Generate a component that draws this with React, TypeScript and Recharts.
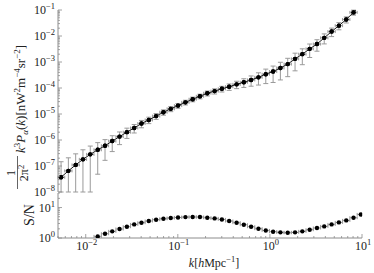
import React from "react";
import { ComposedChart, Scatter, Line, XAxis, YAxis, ErrorBar, Label } from "recharts";

// k bins [h/Mpc]
const kValues = [
  0.0054, 0.00648, 0.00778, 0.00933, 0.0112, 0.0135, 0.0162, 0.0194, 0.0233, 0.028,
  0.0336, 0.0403, 0.0484, 0.0581, 0.0698, 0.0838, 0.1005, 0.121, 0.145, 0.174,
  0.209, 0.251, 0.301, 0.361, 0.435, 0.521, 0.625, 0.751, 0.902, 1.083,
  1.3, 1.561, 1.875, 2.249, 2.704, 3.243, 3.89, 4.677, 5.61, 6.745, 8.091, 9.71,
];

// k^3 P(k) / 2pi^2
const powerValues = [
  3.7e-8, 6.5e-8, 1.1e-7, 1.8e-7, 2.8e-7, 4.2e-7, 6.0e-7, 9.1e-7, 1.35e-6, 2.0e-6,
  2.9e-6, 4.3e-6, 5.9e-6, 8.3e-6, 1.17e-5, 1.58e-5, 2.1e-5, 2.8e-5, 3.7e-5, 4.8e-5,
  6.3e-5, 7.6e-5, 9.3e-5, 1.12e-4, 1.38e-4, 1.66e-4, 2.04e-4, 2.57e-4, 3.4e-4, 4.3e-4,
  5.9e-4, 8.3e-4, 1.32e-3, 2.0e-3, 3.2e-3, 4.9e-3, 8.5e-3, 1.48e-2, 2.5e-2, 4.3e-2, 8.1e-2, 0.166,
];

// signal to noise, bottom panel
const snrValues = [
  0.34, 0.46, 0.6, 0.75, 0.92, 1.13, 1.38, 1.65, 1.97, 2.35,
  2.79, 3.18, 3.61, 3.98, 4.29, 4.53, 4.73, 4.85, 4.9, 4.88,
  4.63, 4.4, 4.07, 3.61, 3.18, 2.73, 2.35, 2.02, 1.77, 1.61,
  1.53, 1.49, 1.53, 1.65, 1.87, 2.13, 2.4, 2.79, 3.25, 3.78, 4.63, 5.94,
];

const xMajorTicks = [0.01, 0.1, 1, 10];
const yMajorTicks = [1e-8, 1e-7, 1e-6, 1e-5, 1e-4, 1e-3, 1e-2, 1e-1];
const snMajorTicks = [1, 10];

const X_DOMAIN = [0.005, 10];
const Y_DOMAIN = [1e-8, 1e-1];
const SN_DOMAIN = [1, 30];

const FRAME = "#8c8c8c";
const ERR = "#9a9a9a";
const INK = "#222";
const FONT = "'Liberation Serif', 'DejaVu Serif', serif";

// major ticks plus the 2..9 minors that fall inside the domain
const withMinors = (majors: number[], lo: number, hi: number) => {
  const out: number[] = [];
  [majors[0] / 10, ...majors].forEach((m) => {
    for (let s = 1; s < 10; s++) {
      const v = m * s;
      if (v >= lo * 0.999 && v <= hi * 1.001) out.push(v);
    }
  });
  return out.sort((a, b) => a - b);
};

const xTicks = withMinors(xMajorTicks, X_DOMAIN[0], X_DOMAIN[1]);
const yTicks = withMinors(yMajorTicks, Y_DOMAIN[0], Y_DOMAIN[1]);
const snTicks = withMinors(snMajorTicks, SN_DOMAIN[0], SN_DOMAIN[1]);

const n = kValues.length;
const rows = kValues.map((k, i) => {
  const p = powerValues[i];
  const sigma = p / snrValues[i];
  const lower = Math.max(p - sigma, Y_DOMAIN[0]);
  const kPrev = i > 0 ? kValues[i - 1] : (k * k) / kValues[i + 1];
  const kNext = i < n - 1 ? kValues[i + 1] : (k * k) / kValues[i - 1];
  const kLo = Math.max(Math.sqrt(kPrev * k), X_DOMAIN[0]);
  const kHi = Math.min(Math.sqrt(k * kNext), X_DOMAIN[1]);
  return { k, p, sn: snrValues[i], ey: [p - lower, sigma], ex: [k - kLo, kHi - k] };
});

// marks outside the axes are not drawn (the reference clips them)
const topPoints = rows.filter((r) => r.p <= Y_DOMAIN[1]);
const snPoints = rows.filter((r) => r.sn >= SN_DOMAIN[0]);

const isMajor = (v: number) => {
  const l = Math.log10(v);
  return Math.abs(l - Math.round(l)) < 1e-6;
};

const Pow = ({ v }: { v: number }) => {
  const e = Math.round(Math.log10(v));
  return (
    <>
      10
      <tspan dy={-5} fontSize={8.5}>
        {e < 0 ? "\u2212" + -e : String(e)}
      </tspan>
    </>
  );
};

const makeTick = (side: "left" | "right" | "top" | "bottom", labels: boolean) => (props: any) => {
  const { x, y, payload } = props;
  const v = payload.value;
  const major = isMajor(v);
  const len = major ? 4 : 2;
  let x2 = x;
  let y2 = y;
  if (side === "left") x2 = x + len;
  if (side === "right") x2 = x - len;
  if (side === "top") y2 = y + len;
  if (side === "bottom") y2 = y - len;
  return (
    <g>
      <line x1={x} y1={y} x2={x2} y2={y2} stroke={FRAME} strokeWidth={0.8} />
      {labels && major && side === "left" && (
        <text x={x - 3} y={y + 4} textAnchor="end" fontFamily={FONT} fontSize={12} fill={INK}>
          <Pow v={v} />
        </text>
      )}
      {labels && major && side === "bottom" && (
        <text x={x + 1} y={y + 12} textAnchor="middle" fontFamily={FONT} fontSize={12} fill={INK}>
          <Pow v={v} />
        </text>
      )}
    </g>
  );
};

const PowerLabel = () => (
  <g transform="translate(20, 189) rotate(-90)" fontFamily={FONT} fill={INK}>
    <text x={16} y={-5} textAnchor="middle" fontSize={12}>1</text>
    <line x1={0} y1={-2.5} x2={33} y2={-2.5} stroke={INK} strokeWidth={0.7} />
    <text x={16} y={8} textAnchor="middle" fontSize={12}>
      2π<tspan dy={-4} fontSize={8.5}>2</tspan>
    </text>
    <text x={36} y={5} fontSize={13}>
      <tspan fontStyle="italic">k</tspan>
      <tspan dy={-5} fontSize={9}>3</tspan>
      <tspan dy={5} fontStyle="italic">P</tspan>
      <tspan dy={3} fontSize={9} fontStyle="italic">α</tspan>
      <tspan dy={-3}>(</tspan>
      <tspan fontStyle="italic">k</tspan>
      <tspan>)[nW</tspan>
      <tspan dy={-5} fontSize={9}>2</tspan>
      <tspan dy={5}>m</tspan>
      <tspan dy={-5} fontSize={9}>{"\u2212"}4</tspan>
      <tspan dy={5}>sr</tspan>
      <tspan dy={-5} fontSize={9}>{"\u2212"}2</tspan>
      <tspan dy={5}>]</tspan>
    </text>
  </g>
);

const Dot = (props: any) => <circle cx={props.cx} cy={props.cy} r={2.2} fill="#000" />;

const axisCommon = {
  type: "number" as const,
  scale: "log" as const,
  allowDataOverflow: true,
  interval: 0,
  tickSize: 0,
  tickMargin: 0,
  axisLine: { stroke: FRAME },
};

export default function App() {
  return (
    <div style={{ position: "absolute", left: 0, top: 0, width: 374, height: 273, background: "#fff" }}>
      <div style={{ position: "absolute", left: 0, top: 0 }}>
        <ComposedChart width={374} height={204} data={rows} margin={{ top: 10, right: 12, bottom: 12, left: 0 }}>
          <XAxis {...axisCommon} dataKey="k" domain={X_DOMAIN} ticks={xTicks} height={0} tick={makeTick("bottom", false)} />
          <XAxis
            {...axisCommon}
            xAxisId="top"
            orientation="top"
            dataKey="k"
            domain={X_DOMAIN}
            ticks={xTicks}
            height={0}
            tick={makeTick("top", false)}
          />
          <YAxis {...axisCommon} domain={Y_DOMAIN} ticks={yTicks} width={58} tick={makeTick("left", true)}>
            <Label content={() => <PowerLabel />} />
          </YAxis>
          <YAxis
            {...axisCommon}
            yAxisId="right"
            orientation="right"
            domain={Y_DOMAIN}
            ticks={yTicks}
            width={0}
            tick={makeTick("right", false)}
          />
          <Scatter data={topPoints} dataKey="p" shape={Dot} isAnimationActive={false}>
            <ErrorBar dataKey="ey" direction="y" width={2.5} stroke={ERR} strokeWidth={1} />
            <ErrorBar dataKey="ex" direction="x" width={1.5} stroke={ERR} strokeWidth={1} />
          </Scatter>
          <Line dataKey="p" stroke="#000" strokeWidth={0.9} dot={false} isAnimationActive={false} />
          <Scatter data={topPoints} dataKey="p" shape={Dot} isAnimationActive={false} />
        </ComposedChart>
      </div>
      <div style={{ position: "absolute", left: 0, top: 180 }}>
        <ComposedChart width={374} height={93} data={rows} margin={{ top: 13, right: 12, bottom: 0, left: 0 }}>
          <XAxis {...axisCommon} dataKey="k" domain={X_DOMAIN} ticks={xTicks} height={35} tick={makeTick("bottom", true)}>
            <Label
              content={(p: any) => {
                const vb = p.viewBox;
                return (
                  <text x={vb.x + vb.width / 2 + 4} y={vb.y + 28.5} textAnchor="middle" fontFamily={FONT} fontSize={12} fill={INK}>
                    <tspan fontStyle="italic">k</tspan>
                    <tspan>[</tspan>
                    <tspan fontStyle="italic">h</tspan>
                    <tspan>Mpc</tspan>
                    <tspan dy={-5} fontSize={8.5}>{"\u2212"}1</tspan>
                    <tspan dy={5}>]</tspan>
                  </text>
                );
              }}
            />
          </XAxis>
          <XAxis
            {...axisCommon}
            xAxisId="top"
            orientation="top"
            dataKey="k"
            domain={X_DOMAIN}
            ticks={xTicks}
            height={0}
            tick={makeTick("top", false)}
          />
          <YAxis {...axisCommon} domain={SN_DOMAIN} ticks={snTicks} width={58} tick={makeTick("left", true)}>
            <Label
              content={() => (
                <text transform="translate(34, 35) rotate(-90)" textAnchor="middle" fontFamily={FONT} fontSize={14} fill={INK}>
                  S/N
                </text>
              )}
            />
          </YAxis>
          <YAxis
            {...axisCommon}
            yAxisId="right"
            orientation="right"
            domain={SN_DOMAIN}
            ticks={snTicks}
            width={0}
            tick={makeTick("right", false)}
          />
          <Scatter data={snPoints} dataKey="sn" shape={Dot} isAnimationActive={false}>
            <ErrorBar dataKey="ex" direction="x" width={1.5} stroke={ERR} strokeWidth={1} />
          </Scatter>
        </ComposedChart>
      </div>
    </div>
  );
}
